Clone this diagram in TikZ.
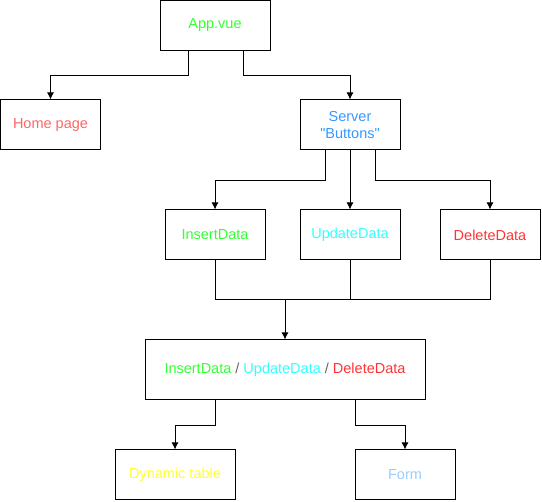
\documentclass[tikz,border=0pt]{standalone}
\usepackage{fontspec}
\setmainfont{Liberation Sans}[Ligatures=TeXOff]
\usetikzlibrary{arrows.meta}
\definecolor{vuegreen}{HTML}{33FF33}
\definecolor{homered}{HTML}{FF6666}
\definecolor{serverblue}{HTML}{3399FF}
\definecolor{updcyan}{HTML}{33FFFF}
\definecolor{delred}{HTML}{FF3333}
\definecolor{dynyellow}{HTML}{FFFF33}
\definecolor{formblue}{HTML}{99CCFF}
\definecolor{slashgray}{HTML}{666666}
\begin{document}
\begin{tikzpicture}[x=1pt,y=-1pt,line width=1pt,>={Latex[length=7pt,width=7pt]},
	box/.style={draw,minimum width=100pt,minimum height=50pt,inner sep=0pt,align=center,font=\fontsize{14.5}{17}\selectfont}]
		\useasboundingbox (0,0) rectangle (542,502);
		\node[box,minimum width=110pt,text=vuegreen] (app) at (215,25.5) {App.vue};
		\node[box,text=homered] (home) at (50.5,125) {Home page};
		\node[box,text=serverblue] (server) at (350,125) {Server\\"Buttons"};
		\node[box,text=vuegreen] (insert) at (215,235) {InsertData};
		\node[box,text=updcyan] (update) at (350,235) {UpdateData};
		\node[box,text=delred] (delete) at (490,235) {DeleteData};
		\node[box,minimum width=280pt,minimum height=60pt] (crud) at (285,370)
			{\textcolor{vuegreen}{InsertData} \textcolor{slashgray}{/} \textcolor{updcyan}{UpdateData} \textcolor{slashgray}{/} \textcolor{delred}{DeleteData}};
		\node[box,minimum width=120pt,text=dynyellow] (table) at (175,475) {Dynamic table};
		\node[box,text=formblue] (form) at (405,475) {Form};
		\coordinate (join) at (285,300);
		\draw[->] ([xshift=-27pt]app.south) -- ++(0,25) -| (home.north);
		\draw[->] ([xshift=28pt]app.south) -- ++(0,25) -| (server.north);
		\draw[->] ([xshift=-25pt]server.south) -- ++(0,30) -| (insert.north);
		\draw[->] (server.south) -- (update.north);
		\draw[->] ([xshift=25pt]server.south) -- ++(0,30) -| (delete.north);
		\draw (insert.south) |- (join);
		\draw (delete.south) |- (join);
		\draw (update.south) -- (update.south |- join);
		\draw[->] (join) -- (crud.north);
		\draw[->] ([xshift=-70pt]crud.south) -- ++(0,25) -| (table.north);
		\draw[->] ([xshift=70pt]crud.south) -- ++(0,25) -| (form.north);
\end{tikzpicture}
\end{document}
